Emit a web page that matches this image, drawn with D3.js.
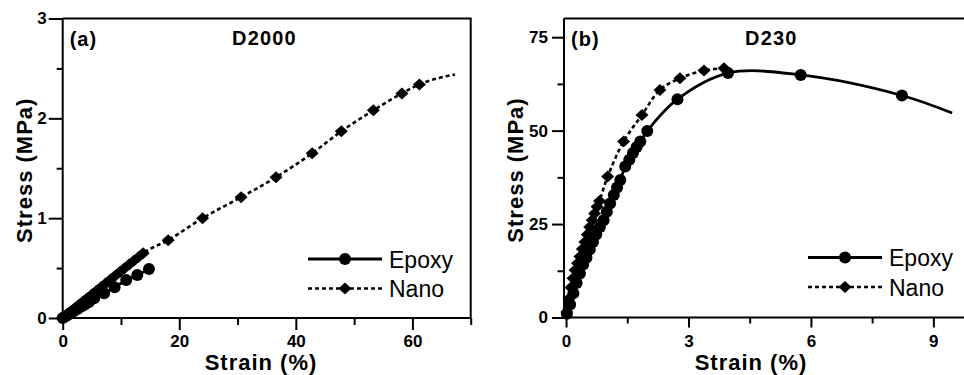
<!DOCTYPE html>
<html><head><meta charset="utf-8">
<script src="https://cdn.jsdelivr.net/npm/d3@7"></script>
<style>body{margin:0;background:#fff}svg{display:block}</style>
</head><body>
<svg id="chart" width="964" height="375"></svg>
<script>
// ---------- Data: panel (a) D2000 ----------
const aEpoxyStrain = [0, 0.5, 1.0, 1.5, 2.0, 2.6, 3.2, 3.8, 4.5, 5.4, 7.1, 8.9, 10.9, 12.8, 14.8];
const aEpoxyStress = [0, 0.018, 0.036, 0.054, 0.072, 0.093, 0.114, 0.135, 0.16, 0.197, 0.247, 0.307, 0.38, 0.43, 0.49];
const aNanoStrain = [0, 0.7, 1.4, 2.1, 2.8, 3.5, 4.2, 5.0, 5.8, 6.6, 7.4, 8.2, 9.0, 9.8, 10.6, 11.4, 12.2, 13.0, 13.8, 18.1, 24.0, 30.6, 36.6, 42.8, 47.8, 53.3, 58.2, 61.2];
const aNanoStress = [0, 0.033, 0.066, 0.099, 0.132, 0.165, 0.198, 0.235, 0.273, 0.31, 0.348, 0.385, 0.423, 0.46, 0.498, 0.535, 0.573, 0.61, 0.648, 0.78, 1.0, 1.21, 1.41, 1.65, 1.87, 2.08, 2.25, 2.34];
const aNanoTailStrain = [67.3];
const aNanoTailStress = [2.44];
// ---------- Data: panel (b) D230 ----------
const bEpoxyStrain = [0.02, 0.1, 0.18, 0.26, 0.34, 0.42, 0.5, 0.58, 0.66, 0.74, 0.83, 0.92, 1.0, 1.08, 1.17, 1.25, 1.33, 1.45, 1.55, 1.64, 1.73, 1.82, 1.99, 2.73, 3.97, 5.75, 8.23];
const bEpoxyStress = [1.0, 3.5, 6.5, 9.2, 11.8, 14.2, 16.0, 18.2, 20.2, 22.2, 24.2, 26.0, 28.3, 30.5, 32.8, 34.8, 36.8, 40.4, 42.2, 44.0, 45.6, 47.1, 49.9, 58.4, 65.4, 64.9, 59.4];
const bEpoxyTailStrain = [9.46];
const bEpoxyTailStress = [54.7];
const bNanoStrain = [0.02, 0.07, 0.12, 0.17, 0.22, 0.28, 0.34, 0.4, 0.46, 0.52, 0.58, 0.64, 0.7, 0.76, 0.82, 1.02, 1.41, 1.86, 2.30, 2.79, 3.38, 3.87];
const bNanoStress = [1.5, 5.0, 8.0, 10.5, 12.7, 14.5, 16.3, 18.3, 20.2, 22.2, 24.2, 26.0, 27.8, 29.6, 31.2, 37.7, 47.1, 54.2, 60.9, 64.0, 66.1, 66.7];
// ---------- Axis ticks and labels ----------
const aXMajor = [0, 20, 40, 60], aXMinor = [10, 30, 50, 70];
const aYMajor = [0, 1, 2, 3], aYMinor = [0.5, 1.5, 2.5];
const bXMajor = [0, 3, 6, 9], bXMinor = [1.5, 4.5, 7.5];
const bYMajor = [0, 25, 50, 75], bYMinor = [12.5, 37.5, 62.5];
const seriesNames = ["Epoxy", "Nano"];
const panelTags = ["(a)", "(b)"];
const panelTitles = ["D2000", "D230"];
const xTitle = "Strain (%)", yTitle = "Stress (MPa)";

const svg = d3.select("#chart");
const FONT = "'Liberation Sans', Arial, Helvetica, sans-serif";
const diamond = "M0,-6L6.5,0L0,6L-6.5,0Z";
const R = 6;

function panel(cfg) {
  const x = d3.scaleLinear().domain(cfg.xDomain).range([cfg.left, cfg.right]);
  const y = d3.scaleLinear().domain(cfg.yDomain).range([cfg.bottom, cfg.top]);
  const g = svg.append("g");

  g.append("path")
    .attr("d", `M${cfg.left},${cfg.top}H${cfg.right}V${cfg.bottom}`)
    .attr("fill", "none").attr("stroke", "#000").attr("stroke-width", 2);

  const styleAxis = (sel) => {
    sel.select(".domain").remove();
    sel.selectAll("line").attr("stroke", "#000").attr("stroke-width", 2);
    sel.selectAll("text").attr("font-family", FONT).attr("font-weight", "bold")
      .attr("font-size", 17).attr("fill", "#000");
  };
  g.append("g").attr("transform", `translate(0,${cfg.bottom})`)
    .call(d3.axisBottom(x).tickValues(cfg.xMajor).tickSize(cfg.xTick[0]).tickPadding(cfg.xTick[2]).tickFormat(d3.format("d")))
    .call(styleAxis);
  g.append("g").attr("transform", `translate(0,${cfg.bottom})`)
    .call(d3.axisBottom(x).tickValues(cfg.xMinor).tickSize(cfg.xTick[1]).tickFormat(""))
    .call(styleAxis);
  g.append("g").attr("transform", `translate(${cfg.left},0)`)
    .call(d3.axisLeft(y).tickValues(cfg.yMajor).tickSize(cfg.yTick[0]).tickPadding(cfg.yTick[2]).tickFormat(d3.format("d")))
    .call(styleAxis);
  g.append("g").attr("transform", `translate(${cfg.left},0)`)
    .call(d3.axisLeft(y).tickValues(cfg.yMinor).tickSize(cfg.yTick[1]).tickFormat(""))
    .call(styleAxis);
  g.append("path").attr("d", `M${cfg.left},${cfg.top}V${cfg.bottom}H${cfg.right}`)
    .attr("fill", "none").attr("stroke", "#000").attr("stroke-width", 2);

  const line = d3.line().x(d => x(d[0])).y(d => y(d[1])).curve(cfg.curve);
  const ep = d3.zip(cfg.epoxyX, cfg.epoxyY);
  const epLine = ep.concat(d3.zip(cfg.epoxyTailX || [], cfg.epoxyTailY || []));
  const na = d3.zip(cfg.nanoX, cfg.nanoY);
  const naLine = na.concat(d3.zip(cfg.nanoTailX || [], cfg.nanoTailY || []));

  g.append("path").datum(naLine).attr("d", line).attr("fill", "none")
    .attr("stroke", "#000").attr("stroke-width", 2.6).attr("stroke-dasharray", "4,3");
  g.append("path").datum(epLine).attr("d", line).attr("fill", "none")
    .attr("stroke", "#000").attr("stroke-width", 2.8);

  g.append("g").selectAll("path").data(na).join("path")
    .attr("d", diamond).attr("transform", d => `translate(${x(d[0])},${y(d[1])})`).attr("fill", "#000");
  g.append("g").selectAll("circle").data(ep).join("circle")
    .attr("cx", d => x(d[0])).attr("cy", d => y(d[1])).attr("r", R).attr("fill", "#000");

  g.append("text").attr("x", cfg.left + 7).attr("y", 46).text(cfg.tag)
    .attr("font-family", FONT).attr("font-weight", "bold").attr("font-size", 20).attr("letter-spacing", 1);
  g.append("text").attr("x", cfg.titleX).attr("y", 45).text(cfg.title)
    .attr("font-family", FONT).attr("font-weight", "bold").attr("font-size", 20).attr("letter-spacing", 1.2);
  g.append("text").attr("x", cfg.xTitleX).attr("y", 370).attr("text-anchor", "middle").text(xTitle)
    .attr("font-family", FONT).attr("font-weight", "bold").attr("font-size", 22).attr("letter-spacing", 1);
  g.append("text").attr("transform", `translate(${cfg.yTitleX},${(cfg.top + cfg.bottom) / 2 + 2}) rotate(-90)`)
    .attr("text-anchor", "middle").text(yTitle)
    .attr("font-family", FONT).attr("font-weight", "bold").attr("font-size", 22).attr("letter-spacing", 1);

  const lx = cfg.legendX, ly = [cfg.legendY, cfg.legendY + 29.5];
  [0, 1].forEach(i => {
    g.append("line").attr("x1", lx).attr("x2", lx + 74).attr("y1", ly[i]).attr("y2", ly[i])
      .attr("stroke", "#000").attr("stroke-width", i ? 2.6 : 2.8).attr("stroke-dasharray", i ? "4,3" : null);
    if (i === 0) g.append("circle").attr("cx", lx + 37).attr("cy", ly[i]).attr("r", R).attr("fill", "#000");
    else g.append("path").attr("d", diamond).attr("transform", `translate(${lx + 37},${ly[i]})`).attr("fill", "#000");
    g.append("text").attr("x", lx + 81).attr("y", ly[i] + 8.5).text(seriesNames[i])
      .attr("font-family", FONT).attr("font-size", 23).attr("fill", "#000");
  });
}

panel({
  left: 62.7, right: 470.7, top: 18.5, bottom: 318,
  xDomain: [0, 70], yDomain: [0, 3],
  xMajor: aXMajor, xMinor: aXMinor, yMajor: aYMajor, yMinor: aYMinor,
  xTick: [12, 7, 5], yTick: [14, 6, 2],
  epoxyX: aEpoxyStrain, epoxyY: aEpoxyStress,
  nanoX: aNanoStrain, nanoY: aNanoStress, nanoTailX: aNanoTailStrain, nanoTailY: aNanoTailStress,
  curve: d3.curveMonotoneX,
  tag: panelTags[0], title: panelTitles[0], titleX: 232,
  xTitleX: 261, yTitleX: 32,
  legendX: 308, legendY: 259
});
panel({
  left: 564, right: 966, top: 18.5, bottom: 317.5,
  xDomain: [-0.05, 9.8], yDomain: [0, 80],
  xMajor: bXMajor, xMinor: bXMinor, yMajor: bYMajor, yMinor: bYMinor,
  xTick: [10, 6, 7], yTick: [12, 6.5, 4],
  epoxyX: bEpoxyStrain, epoxyY: bEpoxyStress, epoxyTailX: bEpoxyTailStrain, epoxyTailY: bEpoxyTailStress,
  nanoX: bNanoStrain, nanoY: bNanoStress,
  curve: d3.curveCatmullRom.alpha(0.5),
  tag: panelTags[1], title: panelTitles[1], titleX: 745,
  xTitleX: 751, yTitleX: 523,
  legendX: 808, legendY: 257.5
});
</script>
</body></html>
